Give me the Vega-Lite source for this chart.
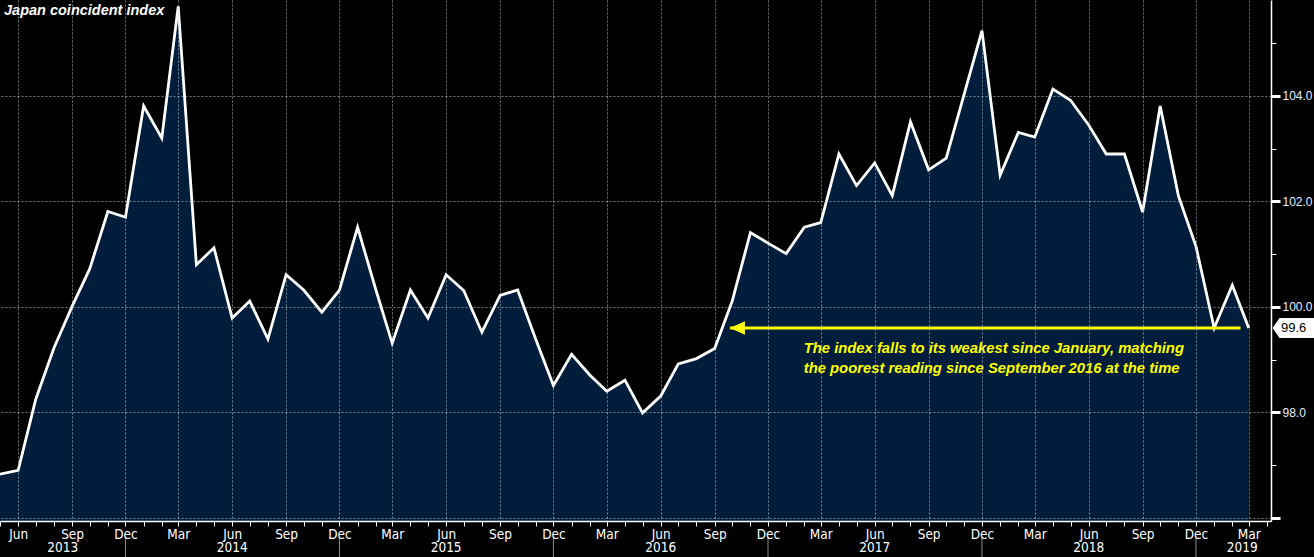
{
  "$schema": "https://vega.github.io/schema/vega-lite/v6.json",
  "width": 1271,
  "height": 521,
  "autosize": {"type": "none"},
  "padding": {"left": 0, "top": 0, "right": 43, "bottom": 36},
  "background": "#000000",
  "config": {"view": {"stroke": null}},
  "datasets": {
    "index": [
      {"date": "2013-05-01", "value": 96.83},
      {"date": "2013-06-01", "value": 96.9},
      {"date": "2013-07-01", "value": 98.25},
      {"date": "2013-08-01", "value": 99.22},
      {"date": "2013-09-01", "value": 100.01},
      {"date": "2013-10-01", "value": 100.72},
      {"date": "2013-11-01", "value": 101.81},
      {"date": "2013-12-01", "value": 101.7},
      {"date": "2014-01-01", "value": 103.81},
      {"date": "2014-02-01", "value": 103.2},
      {"date": "2014-03-01", "value": 105.7},
      {"date": "2014-04-01", "value": 100.8},
      {"date": "2014-05-01", "value": 101.12},
      {"date": "2014-06-01", "value": 99.79},
      {"date": "2014-07-01", "value": 100.11},
      {"date": "2014-08-01", "value": 99.39},
      {"date": "2014-09-01", "value": 100.61},
      {"date": "2014-10-01", "value": 100.32},
      {"date": "2014-11-01", "value": 99.9},
      {"date": "2014-12-01", "value": 100.32},
      {"date": "2015-01-01", "value": 101.51},
      {"date": "2015-02-01", "value": 100.33},
      {"date": "2015-03-01", "value": 99.31},
      {"date": "2015-04-01", "value": 100.32},
      {"date": "2015-05-01", "value": 99.79},
      {"date": "2015-06-01", "value": 100.61},
      {"date": "2015-07-01", "value": 100.31},
      {"date": "2015-08-01", "value": 99.52},
      {"date": "2015-09-01", "value": 100.22},
      {"date": "2015-10-01", "value": 100.32},
      {"date": "2015-11-01", "value": 99.38},
      {"date": "2015-12-01", "value": 98.51},
      {"date": "2016-01-01", "value": 99.1},
      {"date": "2016-02-01", "value": 98.71},
      {"date": "2016-03-01", "value": 98.4},
      {"date": "2016-04-01", "value": 98.61},
      {"date": "2016-05-01", "value": 97.99},
      {"date": "2016-06-01", "value": 98.31},
      {"date": "2016-07-01", "value": 98.92},
      {"date": "2016-08-01", "value": 99.02},
      {"date": "2016-09-01", "value": 99.21},
      {"date": "2016-10-01", "value": 100.11},
      {"date": "2016-11-01", "value": 101.41},
      {"date": "2016-12-01", "value": 101.21},
      {"date": "2017-01-01", "value": 101.01},
      {"date": "2017-02-01", "value": 101.51},
      {"date": "2017-03-01", "value": 101.6},
      {"date": "2017-04-01", "value": 102.9},
      {"date": "2017-05-01", "value": 102.3},
      {"date": "2017-06-01", "value": 102.73},
      {"date": "2017-07-01", "value": 102.11},
      {"date": "2017-08-01", "value": 103.51},
      {"date": "2017-09-01", "value": 102.6},
      {"date": "2017-10-01", "value": 102.82},
      {"date": "2017-11-01", "value": 104.05},
      {"date": "2017-12-01", "value": 105.24},
      {"date": "2018-01-01", "value": 102.5},
      {"date": "2018-02-01", "value": 103.31},
      {"date": "2018-03-01", "value": 103.22},
      {"date": "2018-04-01", "value": 104.13},
      {"date": "2018-05-01", "value": 103.92},
      {"date": "2018-06-01", "value": 103.45},
      {"date": "2018-07-01", "value": 102.9},
      {"date": "2018-08-01", "value": 102.9},
      {"date": "2018-09-01", "value": 101.8},
      {"date": "2018-10-01", "value": 103.81},
      {"date": "2018-11-01", "value": 102.11},
      {"date": "2018-12-01", "value": 101.15},
      {"date": "2019-01-01", "value": 99.6},
      {"date": "2019-02-01", "value": 100.41},
      {"date": "2019-03-01", "value": 99.6}
    ],
    "arrow": [
      {"start": "2016-09-27", "end": "2019-02-15", "value": 99.6}
    ],
    "note": [
      {"date": "2017-01-31", "value": 99.13, "text": "The index falls to its weakest since January, matching\nthe poorest reading since September 2016 at the time"}
    ],
    "heading": [
      {"text": "Japan coincident index"}
    ],
    "last": [
      {"value": 99.6, "label": "99.6"}
    ],
    "years": [
      {"year": "2013", "date": "2013-08-16"},
      {"year": "2014", "date": "2014-06-01"},
      {"year": "2015", "date": "2015-06-01"},
      {"year": "2016", "date": "2016-06-01"},
      {"year": "2017", "date": "2017-06-01"},
      {"year": "2018", "date": "2018-06-01"},
      {"year": "2019", "date": "2019-02-18"}
    ],
    "yearBreaks": [
      {"date": "2013-12-01"},
      {"date": "2014-12-01"},
      {"date": "2015-12-01"},
      {"date": "2016-12-01"},
      {"date": "2017-12-01"},
      {"date": "2018-12-01"}
    ]
  },
  "layer": [
    {
      "data": {"name": "index"},
      "mark": {"type": "area", "color": "#011d3c", "clip": true},
      "encoding": {
        "x": {
          "field": "date",
          "type": "temporal",
          "scale": {
            "type": "utc",
            "domain": [
              {"year": 2013, "month": 5, "date": 1, "utc": true},
              {"year": 2019, "month": 4, "date": 8, "utc": true}
            ]
          },
          "axis": {
            "orient": "bottom",
            "title": null,
            "tickCount": {"interval": "month", "step": 1},
            "labelExpr": "utcmonth(datum.value) % 3 == 2 ? utcFormat(datum.value, '%b') : ''",
            "labelOverlap": false,
            "labelFlush": false,
            "labelBound": false,
            "domainColor": "#ffffff",
            "domainWidth": 1.5,
            "tickColor": "#ffffff",
            "tickSize": 5,
            "tickWidth": 1,
            "labelPadding": 1,
            "labelBaseline": "top",
            "labelColor": "#ffffff",
            "labelFont": "Liberation Sans Narrow, DejaVu Sans Condensed, sans-serif",
            "labelFontSize": 13.5,
            "grid": true,
            "gridColor": "#c8d0dc",
            "gridDash": [2, 2],
            "gridWidth": 1,
            "gridOpacity": {"condition": {"test": "utcmonth(datum.value) % 3 == 2", "value": 0.6}, "value": 0},
            "zindex": 1
          }
        },
        "y": {
          "field": "value",
          "type": "quantitative",
          "scale": {"domain": [95.94, 105.82], "nice": false, "zero": false},
          "axis": {
            "orient": "right",
            "title": null,
            "values": [96, 97, 98, 99, 100, 101, 102, 103, 104, 105],
            "labelExpr": "datum.value % 2 == 0 && datum.value > 96 ? format(datum.value, '.1f') : ''",
            "domainColor": "#ffffff",
            "domainWidth": 1.5,
            "tickColor": "#ffffff",
            "tickSize": {"condition": {"test": "datum.value % 2 == 0", "value": 9}, "value": 5},
            "tickWidth": {"condition": {"test": "datum.value % 2 == 0", "value": 3}, "value": 1},
            "labelPadding": 2,
            "labelColor": "#e6efff",
            "labelFont": "Liberation Sans",
            "labelFontSize": 12,
            "labelOverlap": false,
            "labelFlush": false,
            "labelBound": false,
            "grid": true,
            "gridColor": "#c8d0dc",
            "gridDash": [2, 2],
            "gridWidth": 1,
            "gridOpacity": {"condition": {"test": "datum.value % 2 == 0", "value": 0.6}, "value": 0},
            "zindex": 1
          }
        },
        "y2": {"datum": 95.94}
      }
    },
    {
      "data": {"name": "index"},
      "mark": {"type": "line", "color": "#ffffff", "strokeWidth": 2.8, "strokeJoin": "miter"},
      "encoding": {
        "x": {"field": "date", "type": "temporal"},
        "y": {"field": "value", "type": "quantitative"}
      }
    },
    {
      "data": {"name": "arrow"},
      "mark": {"type": "rule", "color": "#ffff00", "strokeWidth": 3},
      "encoding": {
        "x": {"field": "start", "type": "temporal"},
        "x2": {"field": "end"},
        "y": {"field": "value", "type": "quantitative"}
      }
    },
    {
      "data": {"name": "arrow"},
      "mark": {"type": "point", "shape": "M0,0 L2,-0.9 L2,0.9 Z", "size": 225, "filled": true, "color": "#ffff00", "opacity": 1, "strokeWidth": 0},
      "encoding": {
        "x": {"field": "start", "type": "temporal"},
        "y": {"field": "value", "type": "quantitative"}
      }
    },
    {
      "data": {"name": "note"},
      "mark": {"type": "text", "align": "left", "baseline": "alphabetic", "lineBreak": "\n", "lineHeight": 20, "color": "#ffff00", "font": "Liberation Sans", "fontSize": 14.8, "fontStyle": "italic", "fontWeight": "bold"},
      "encoding": {
        "x": {"field": "date", "type": "temporal"},
        "y": {"field": "value", "type": "quantitative"},
        "text": {"field": "text"}
      }
    },
    {
      "data": {"name": "heading"},
      "mark": {"type": "text", "align": "left", "baseline": "top", "dx": 4, "dy": 4, "color": "#ffffff", "font": "Liberation Sans", "fontSize": 14.5, "fontStyle": "italic", "fontWeight": "bold"},
      "encoding": {
        "x": {"datum": {"year": 2013, "month": 5, "date": 1, "utc": true}, "type": "temporal"},
        "y": {"datum": 105.82, "type": "quantitative"},
        "text": {"field": "text"}
      }
    },
    {
      "data": {"name": "last"},
      "mark": {"type": "point", "shape": "M0.04,0 L0.2,-0.24 L1.1,-0.24 L1.1,0.24 L0.2,0.24 Z", "size": 7056, "filled": true, "color": "#ffffff", "opacity": 1, "strokeWidth": 0},
      "encoding": {
        "x": {"datum": {"year": 2019, "month": 4, "date": 8, "utc": true}, "type": "temporal"},
        "y": {"field": "value", "type": "quantitative"}
      }
    },
    {
      "data": {"name": "last"},
      "mark": {"type": "text", "align": "left", "baseline": "middle", "dx": 10, "color": "#000000", "font": "Liberation Sans", "fontSize": 13},
      "encoding": {
        "x": {"datum": {"year": 2019, "month": 4, "date": 8, "utc": true}, "type": "temporal"},
        "y": {"field": "value", "type": "quantitative"},
        "text": {"field": "label"}
      }
    },
    {
      "data": {"name": "years"},
      "mark": {"type": "text", "align": "center", "baseline": "middle", "color": "#ffffff", "font": "Liberation Sans Narrow, DejaVu Sans Condensed, sans-serif", "fontSize": 13.5},
      "encoding": {
        "x": {"field": "date", "type": "temporal"},
        "y": {"datum": 95.428, "type": "quantitative"},
        "text": {"field": "year"}
      }
    },
    {
      "data": {"name": "yearBreaks"},
      "mark": {"type": "rule", "color": "#8c8c8c", "strokeWidth": 1},
      "encoding": {
        "x": {"field": "date", "type": "temporal"},
        "y": {"datum": 95.636, "type": "quantitative"},
        "y2": {"datum": 95.257}
      }
    }
  ]
}
